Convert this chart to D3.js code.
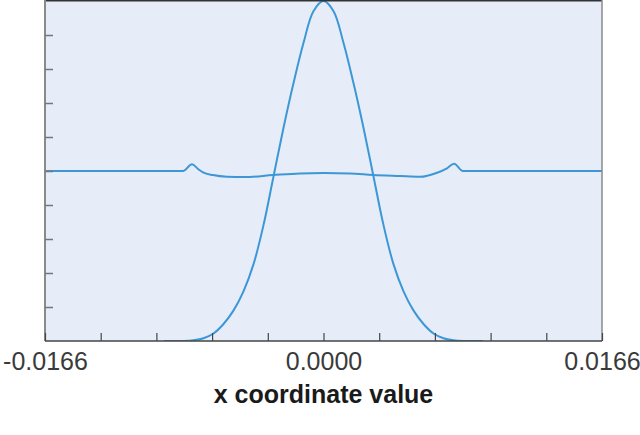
<!DOCTYPE html>
<html>
<head>
<meta charset="utf-8">
<script src="https://cdn.jsdelivr.net/npm/d3@7"></script>
<style>
  html, body { margin: 0; padding: 0; background: #ffffff; }
  svg { display: block; }
</style>
</head>
<body>
<svg id="chart" width="640" height="435"></svg>
<script>
// ---- data ----
const xDomain = [-0.0166, 0.0166];
const xTickValues = [-0.0166, -0.01328, -0.00996, -0.00664, -0.00332, 0, 0.00332, 0.00664, 0.00996, 0.01328, 0.0166];
const xTickLabels = ["-0.0166", "", "", "", "", "0.0000", "", "", "", "", "0.0166"];
const yTickValues = [0.1, 0.2, 0.3, 0.4, 0.5, 0.6, 0.7, 0.8, 0.9];
const xAxisTitle = "x coordinate value";

// pulse (bell-shaped) curve
const pulseX = [-0.0095, -0.00834, -0.00775, -0.00715, -0.00656, -0.00596, -0.00536, -0.00477, -0.00417, -0.00358, -0.00298, -0.00238, -0.00179, -0.00119, -0.00060, 0,
                 0.00060, 0.00119, 0.00179, 0.00238, 0.00298, 0.00358, 0.00417, 0.00477, 0.00536, 0.00596, 0.00656, 0.00715, 0.00775, 0.00834, 0.0095];
const pulseY = [0, 0, 0.002, 0.008, 0.022, 0.050, 0.090, 0.146, 0.226, 0.340, 0.484, 0.628, 0.758, 0.877, 0.970, 1.0,
                0.970, 0.877, 0.758, 0.628, 0.484, 0.340, 0.226, 0.146, 0.090, 0.050, 0.022, 0.008, 0.002, 0, 0];

// perturbation curve (near mid level)
const waveX = [-0.0166, -0.0120, -0.00837, -0.00784, -0.00748, -0.00718, -0.00659, -0.00575, -0.00468, -0.00301, -0.00140, 0,
                0.00158, 0.00295, 0.00456, 0.00575, 0.00677, 0.00736, 0.00778, 0.00831, 0.0120, 0.0166];
const waveY = [0.500, 0.500, 0.500, 0.520, 0.506, 0.496, 0.488, 0.483, 0.482, 0.488, 0.493, 0.494,
               0.493, 0.488, 0.485, 0.483, 0.495, 0.508, 0.521, 0.500, 0.500, 0.500];

// ---- layout ----
const svg = d3.select("#chart");
const pLeft = 45, pRight = 602, pTop = 1, pBottom = 341;
const lineColor = "#3d97d6";

const x = d3.scaleLinear().domain(xDomain).range([pLeft, pRight]);
const y = d3.scaleLinear().domain([0, 1]).range([pBottom, pTop]);

// plot background
svg.append("rect")
  .attr("x", pLeft).attr("y", 0)
  .attr("width", pRight - pLeft).attr("height", pBottom)
  .attr("fill", "#e6edf8");

svg.append("clipPath").attr("id", "clip")
  .append("rect").attr("x", pLeft).attr("y", 0)
  .attr("width", pRight - pLeft).attr("height", pBottom);

const waveLine = d3.line().x(d => x(d[0])).y(d => y(d[1])).curve(d3.curveMonotoneX);
const pulseLine = d3.line().x(d => x(d[0])).y(d => y(d[1])).curve(d3.curveCatmullRom.alpha(0.5));

const plot = svg.append("g").attr("clip-path", "url(#clip)");
plot.append("path")
  .datum(waveX.map((v, i) => [v, waveY[i]]))
  .attr("d", waveLine)
  .attr("fill", "none").attr("stroke", lineColor).attr("stroke-width", 2);
plot.append("path")
  .datum(pulseX.map((v, i) => [v, pulseY[i]]))
  .attr("d", pulseLine)
  .attr("fill", "none").attr("stroke", lineColor).attr("stroke-width", 2);

// top border and right border
svg.append("line").attr("x1", pLeft).attr("x2", pRight).attr("y1", 0.5).attr("y2", 0.5)
  .attr("stroke", "#333").attr("stroke-width", 2);
svg.append("line").attr("x1", pRight).attr("x2", pRight).attr("y1", 0).attr("y2", pBottom)
  .attr("stroke", "#8a8a8a").attr("stroke-width", 1.5);

// left axis
const yAxis = d3.axisLeft(y).tickValues(yTickValues).tickSize(-8).tickFormat("");
const gy = svg.append("g").attr("transform", `translate(${pLeft},0)`).call(yAxis);
gy.select(".domain").attr("stroke", "#8a8a8a").attr("stroke-width", 2).attr("d", `M0,0V${pBottom}`);
gy.selectAll(".tick line").attr("stroke", "#777").attr("stroke-width", 1.5);

// bottom axis
const xAxis = d3.axisBottom(x).tickValues(xTickValues).tickSize(-8)
  .tickFormat((d, i) => xTickLabels[i]);
const gx = svg.append("g").attr("transform", `translate(0,${pBottom})`).call(xAxis);
gx.select(".domain").attr("stroke", "#444").attr("stroke-width", 1.5).attr("d", `M${pLeft},0H${pRight}`);
gx.selectAll(".tick line").attr("stroke", "#444").attr("stroke-width", 1.2);
gx.selectAll(".tick text")
  .attr("y", 29).attr("dy", 0)
  .attr("fill", "#3a3a3a")
  .style("font-family", "'Liberation Sans', Arial, sans-serif")
  .style("font-size", "25px");

// axis title
svg.append("text")
  .attr("x", (pLeft + pRight) / 2).attr("y", 403)
  .attr("text-anchor", "middle")
  .attr("fill", "#1a1a1a")
  .style("font-family", "'Liberation Sans', Arial, sans-serif")
  .style("font-size", "25px").style("font-weight", "bold")
  .text(xAxisTitle);
</script>
</body>
</html>
